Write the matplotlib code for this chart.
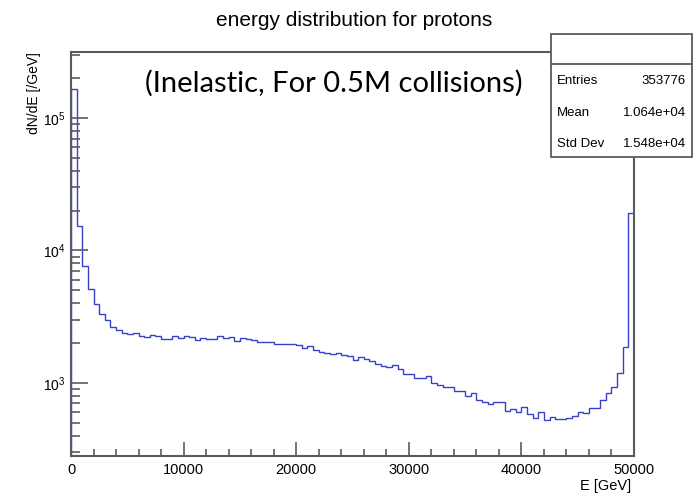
import numpy as np
import matplotlib
matplotlib.use("Agg")
import matplotlib.pyplot as plt
from matplotlib.ticker import MultipleLocator, LogLocator, NullFormatter
from matplotlib.patches import Rectangle

plt.rcParams['font.family'] = ['Liberation Sans', 'DejaVu Sans']

# histogram: 100 bins from 0 to 50000 GeV
e_min, e_max, n_bins = 0, 50000, 100
dnde = [
    166800, 15200, 7700, 5100, 3950, 3330, 3000, 2650, 2500, 2385,
    2330, 2400, 2260, 2210, 2315, 2250, 2160, 2160, 2260, 2190,
    2275, 2235, 2120, 2200, 2160, 2160, 2250, 2175, 2210, 2085,
    2200, 2148, 2120, 2040, 2030, 2030, 1980, 1980, 1960, 1960,
    1925, 1847, 1915, 1765, 1714, 1693, 1655, 1693, 1627, 1598,
    1483, 1580, 1517, 1473, 1384, 1351, 1328, 1368, 1268, 1175,
    1175, 1085, 1085, 1129, 1005, 971, 935, 935, 870, 870,
    798, 836, 744, 715, 690, 715, 715, 615, 637, 608,
    655, 580, 541, 608, 526, 557, 532, 535, 545, 567,
    608, 597, 644, 644, 744, 836, 938, 1196, 1860, 19100,
]

stat_names = ["Entries", "Mean", "Std Dev"]
stat_values = ["353776", "1.064e+04", "1.548e+04"]

W, H = 700, 498
fig = plt.figure(figsize=(7, 4.98), dpi=100)
ax = fig.add_axes([71 / W, 1 - 456 / H, (634 - 71) / W, (456 - 52) / H])

edges = np.linspace(e_min, e_max, n_bins + 1)
ax.stairs(dnde, edges, baseline=1, color='#3a3fc8', linewidth=1.0)

ax.set_yscale('log')
ax.set_xlim(e_min, e_max)
ax.set_ylim(281, 315000)

frame_col = '#5a5a5a'
for side in ['left', 'bottom', 'top', 'right']:
    ax.spines[side].set_color(frame_col)
    ax.spines[side].set_linewidth(1.5)

ax.xaxis.set_major_locator(MultipleLocator(10000))
ax.xaxis.set_minor_locator(MultipleLocator(2000))
ax.yaxis.set_major_locator(LogLocator(base=10))
ax.yaxis.set_minor_locator(LogLocator(base=10, subs=np.arange(2, 10)))
ax.yaxis.set_minor_formatter(NullFormatter())

ax.tick_params(axis='x', which='major', direction='in', length=10, width=1.2,
               color=frame_col, labelsize=10.5, pad=5)
ax.tick_params(axis='x', which='minor', direction='in', length=5, width=1.2,
               color=frame_col)
ax.tick_params(axis='y', which='major', direction='in', length=12, width=1.2,
               color=frame_col, labelsize=10, pad=4)
ax.tick_params(axis='y', which='minor', direction='in', length=6.5, width=1.2,
               color=frame_col)

fig.text(354 / W, 1 - 21 / H, "energy distribution for protons",
         ha='center', va='center', fontsize=15)
fig.text(34 / W, 1 - 52 / H, "dN/dE [/GeV]", rotation=90,
         ha='center', va='top', fontsize=10)
fig.text(631 / W, 1 - 486 / H, "E [GeV]", ha='right', va='center',
         fontsize=10.5)

ax.text((334 - 71) / (634 - 71), (456 - 83) / (456 - 52),
        "(Inelastic, For 0.5M collisions)", transform=ax.transAxes,
        ha='center', va='center', fontsize=21, family=['Lato', 'DejaVu Sans'])

# stats box
box = Rectangle((551 / W, 1 - 157 / H), (692 - 551) / W, (157 - 34) / H,
                transform=fig.transFigure, facecolor='white',
                edgecolor=frame_col, linewidth=1.3, zorder=5)
fig.patches.append(box)
fig.lines.append(plt.Line2D([551 / W, 692 / W], [1 - 64 / H, 1 - 64 / H],
                            transform=fig.transFigure, color=frame_col,
                            linewidth=1.3, zorder=6))
row_y = [81, 113, 144]
for name, val, y in zip(stat_names, stat_values, row_y):
    fig.text(557 / W, 1 - y / H, name, ha='left', va='center',
             fontsize=9.5, zorder=7)
    fig.text(686 / W, 1 - y / H, val, ha='right', va='center',
             fontsize=9.5, zorder=7)

fig.savefig("out.png", dpi=100)
